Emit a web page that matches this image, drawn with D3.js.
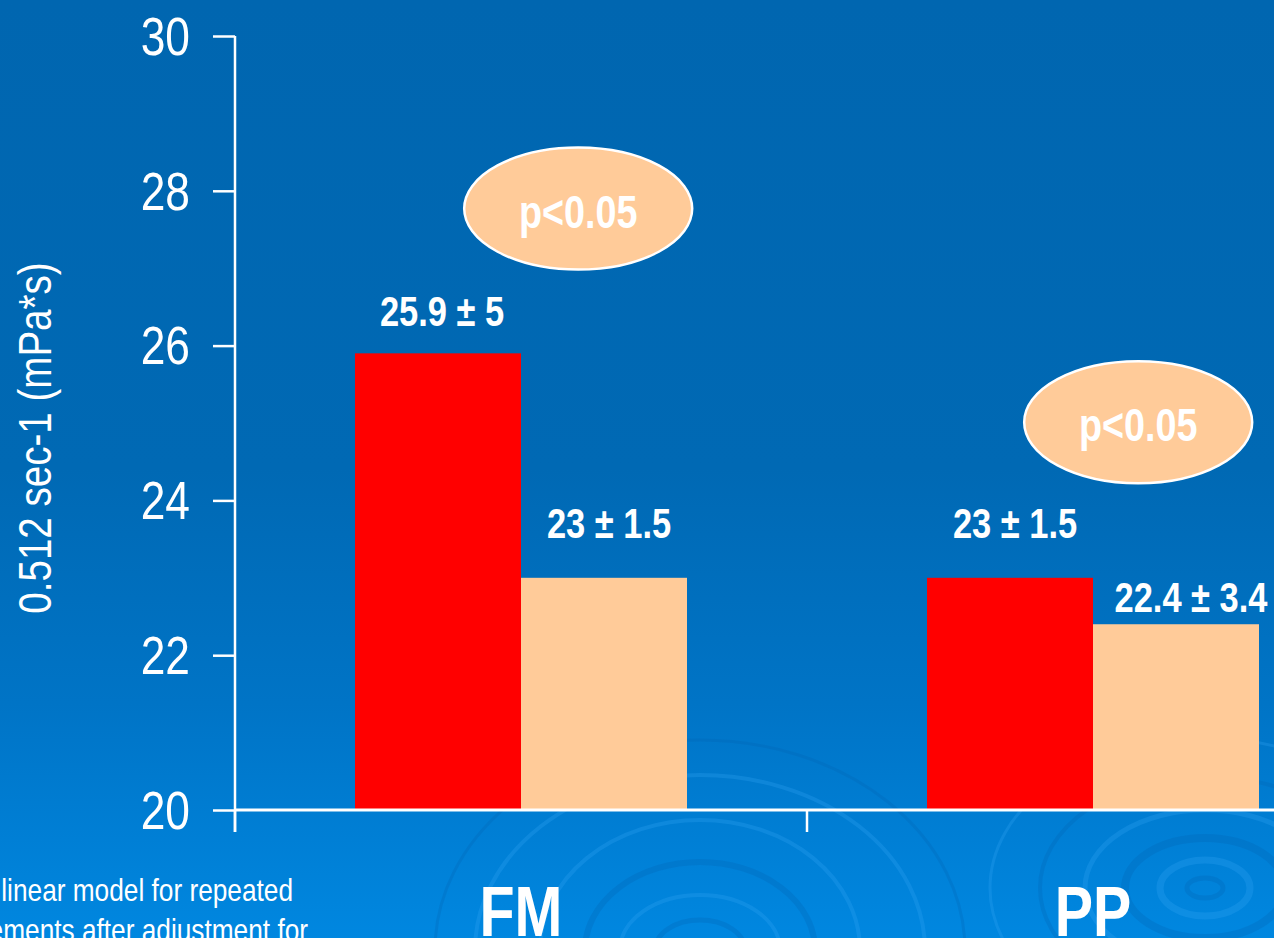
<!DOCTYPE html>
<html>
<head>
<meta charset="utf-8">
<script src="https://cdn.jsdelivr.net/npm/d3@7/dist/d3.min.js"></script>
<style>
  html, body { margin: 0; padding: 0; overflow: hidden; background: #0067b1; }
  svg { display: block; }
  text { font-family: "Liberation Sans Narrow", "Arial Narrow", "Liberation Sans", Arial, sans-serif; fill: #fff; }
</style>
</head>
<body>
<svg id="chart" width="1274" height="938"></svg>
<script>
// Blood viscosity at 0.512 s-1, two groups, two measurements each
const categories = ["FM", "PP"];
const series = ["first", "second"];
const meanFirst = [25.9, 23];
const meanSecond = [23, 22.4];
const sdFirst = [5, 1.5];
const sdSecond = [1.5, 3.4];
const yTicks = [20, 22, 24, 26, 28, 30];
const pLabels = ["p<0.05", "p<0.05"];
const yTitle = "0.512 sec-1 (mPa*s)";
const footnote = ["General linear model for repeated", "measurements after adjustment for"];

const W = 1274, H = 938;
const svg = d3.select("#chart");

// condensed lettering: squeeze each text horizontally
const NARROW = 0.82;
function condense(sel) {
  sel.each(function () {
    const len = this.getComputedTextLength();
    d3.select(this).attr("textLength", len * NARROW).attr("lengthAdjust", "spacingAndGlyphs");
  });
}

// background gradient
const defs = svg.append("defs");
const grad = defs.append("linearGradient").attr("id", "bg").attr("x1", 0).attr("y1", 0).attr("x2", 0).attr("y2", 1);
grad.append("stop").attr("offset", "0%").attr("stop-color", "#0066b0");
grad.append("stop").attr("offset", "50%").attr("stop-color", "#0069b4");
grad.append("stop").attr("offset", "75%").attr("stop-color", "#0074c6");
grad.append("stop").attr("offset", "100%").attr("stop-color", "#0087e0");
svg.append("rect").attr("width", W).attr("height", H).attr("fill", "url(#bg)");

// water ripple ornament
const rip = svg.append("g").attr("fill", "none");
const ripples = [
  {cx: 700, cy: 950, rings: [[45, 30, "dark", 5], [80, 55, "light", 4], [115, 88, "dark", 6], [160, 130, "light", 4], [225, 175, "light", 4], [265, 210, "dark", 3]]},
  {cx: 1205, cy: 888, rings: [[18, 10, "dark", 5], [45, 28, "light", 7], [80, 50, "dark", 8], [120, 78, "light", 5], [165, 112, "dark", 4], [215, 150, "light", 3]]}
];
ripples.forEach(r => {
  r.rings.forEach(([rx, ry, tone, sw]) => {
    rip.append("ellipse")
      .attr("cx", r.cx).attr("cy", r.cy).attr("rx", rx).attr("ry", ry)
      .attr("stroke", tone === "dark" ? "rgba(0,100,180,0.28)" : "rgba(50,165,245,0.28)")
      .attr("stroke-width", sw);
  });
});

// scales
const y = d3.scaleLinear().domain([20, 30]).range([810, 36]);
const x = d3.scaleBand().domain(categories).range([235, 1379]).padding(0);
const bw = x.bandwidth();
const groupW = 332;
const x1 = d3.scaleBand().domain(series).range([bw / 2 - groupW / 2, bw / 2 + groupW / 2]).padding(0);

const colors = {first: "#ff0000", second: "#ffcb99"};

const rows = [];
categories.forEach((c, i) => {
  rows.push({cat: c, s: "first", v: meanFirst[i], sd: sdFirst[i]});
  rows.push({cat: c, s: "second", v: meanSecond[i], sd: sdSecond[i]});
});

// bars
svg.append("g").selectAll("rect").data(rows).join("rect")
  .attr("x", d => x(d.cat) + x1(d.s))
  .attr("y", d => y(d.v))
  .attr("width", x1.bandwidth())
  .attr("height", d => y(20) - y(d.v))
  .attr("fill", d => colors[d.s]);

// value labels above bars
const labelGap = [27, 40, 40, 12];
const labelShift = [4, 5, 5, 15];
svg.append("g").selectAll("text").data(rows).join("text")
  .attr("x", (d, i) => x(d.cat) + x1(d.s) + x1.bandwidth() / 2 + labelShift[i])
  .attr("y", (d, i) => y(d.v) - labelGap[i])
  .attr("text-anchor", "middle")
  .attr("font-size", 42)
  .attr("font-weight", "bold")
  .text(d => `${d.v} ± ${d.sd}`)
  .call(condense);

// y axis
const yAxis = svg.append("g").attr("transform", "translate(235,0)")
  .call(d3.axisLeft(y).tickValues(yTicks).tickSize(22).tickPadding(23).tickFormat(d3.format("d")));
yAxis.select(".domain").remove();
yAxis.selectAll(".tick line").attr("stroke", "#fff").attr("stroke-width", 2.5);
yAxis.selectAll(".tick text").attr("font-size", 54).attr("fill", "#fff").attr("dy", "0.34em")
  .style("font-family", '"Liberation Sans Narrow", "Arial Narrow", "Liberation Sans", Arial, sans-serif')
  .call(condense);
svg.append("line").attr("x1", 235).attr("x2", 235).attr("y1", y(30)).attr("y2", y(20) + 22)
  .attr("stroke", "#fff").attr("stroke-width", 2.5);

// x axis
svg.append("line").attr("x1", 235).attr("x2", W).attr("y1", y(20)).attr("y2", y(20))
  .attr("stroke", "#fff").attr("stroke-width", 3);
svg.append("g").selectAll("line").data(categories).join("line")
  .attr("x1", d => x(d)).attr("x2", d => x(d))
  .attr("y1", y(20)).attr("y2", y(20) + 22)
  .attr("stroke", "#fff").attr("stroke-width", 2.5);
const xAxis = svg.append("g").attr("transform", `translate(0,${y(20)})`)
  .call(d3.axisBottom(x).tickSize(0).tickPadding(0));
xAxis.select(".domain").remove();
xAxis.selectAll(".tick text").attr("font-size", 70).attr("font-weight", "bold").attr("fill", "#fff")
  .attr("dy", null).attr("y", 126)
  .style("font-family", '"Liberation Sans Narrow", "Arial Narrow", "Liberation Sans", Arial, sans-serif')
  .call(condense);

// y title
svg.append("text")
  .attr("transform", `translate(51,${y(25) + 15}) rotate(-90)`)
  .attr("text-anchor", "middle")
  .attr("font-size", 47)
  .text(yTitle)
  .call(condense);

// significance callouts
const callouts = [
  {cat: "FM", fx: 0.6, v: 27.77},
  {cat: "PP", fx: 0.579, v: 25.01}
];
const cg = svg.append("g").selectAll("g").data(callouts).join("g")
  .attr("transform", d => `translate(${x(d.cat) + bw * d.fx},${y(d.v)})`);
cg.append("ellipse").attr("rx", 114).attr("ry", 61)
  .attr("fill", "#ffcb99").attr("stroke", "#fff").attr("stroke-width", 2.5);
cg.append("text").attr("text-anchor", "middle").attr("y", 19)
  .attr("font-size", 46).attr("font-weight", "bold")
  .text((d, i) => pLabels[i])
  .call(condense);

// footnote
svg.append("g").selectAll("text").data(footnote).join("text")
  .attr("x", (d, i) => i === 0 ? 293 : 308)
  .attr("y", (d, i) => 901 + i * 40)
  .attr("text-anchor", "end")
  .attr("font-size", 32)
  .text(d => d)
  .call(condense);
</script>
</body>
</html>
